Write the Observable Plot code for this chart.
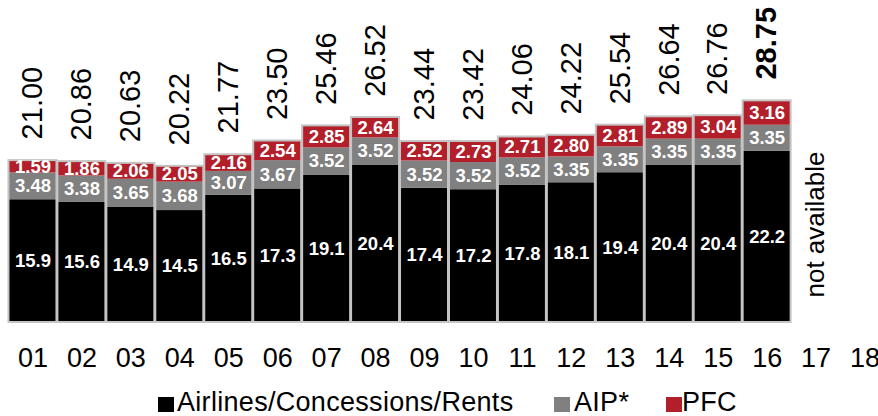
<!DOCTYPE html>
<html>
<head>
<meta charset="utf-8">
<script src="https://cdn.jsdelivr.net/npm/d3@7"></script>
<script src="https://cdn.jsdelivr.net/npm/@observablehq/plot@0.6"></script>
<style>
  html, body { margin: 0; padding: 0; background: #fff; }
  body { width: 878px; height: 416px; overflow: hidden; font-family: "Liberation Sans", Arial, sans-serif; }
  #legend { position: relative; height: 36px; font-size: 27px; letter-spacing: 0.3px; color: #000; }
  #legend .sw { position: absolute; top: 17px; width: 16px; height: 15px; }
  #legend .lb { position: absolute; top: 9px; line-height: 27px; white-space: nowrap; }
</style>
</head>
<body>
<div id="chart"></div>
<div id="legend"></div>
<script>
const years = ["01","02","03","04","05","06","07","08","09","10","11","12","13","14","15","16","17","18"];
const barYears = ["01","02","03","04","05","06","07","08","09","10","11","12","13","14","15","16"];
const airlines = [15.9,15.6,14.9,14.5,16.5,17.3,19.1,20.4,17.4,17.2,17.8,18.1,19.4,20.4,20.4,22.2];
const aip = [3.48,3.38,3.65,3.68,3.07,3.67,3.52,3.52,3.52,3.52,3.52,3.35,3.35,3.35,3.35,3.35];
const pfc = [1.59,1.86,2.06,2.05,2.16,2.54,2.85,2.64,2.52,2.73,2.71,2.80,2.81,2.89,3.04,3.16];
const totals = [21.00,20.86,20.63,20.22,21.77,23.50,25.46,26.52,23.44,23.42,24.06,24.22,25.54,26.64,26.76,28.75];
const seriesNames = ["Airlines/Concessions/Rents","AIP*","PFC"];
const seriesColors = ["#000000","#808080","#b21f2a"];
const noteYear = ["17"];
const noteText = ["not available"];

const rows = [];
barYears.forEach((yr, i) => {
  rows.push({year: yr, series: seriesNames[0], value: airlines[i], label: airlines[i].toFixed(1)});
  rows.push({year: yr, series: seriesNames[1], value: aip[i], label: aip[i].toFixed(2)});
  rows.push({year: yr, series: seriesNames[2], value: pfc[i], label: pfc[i].toFixed(2)});
});
const totalRows = barYears.map((yr, i) => ({year: yr, total: totals[i], bold: i === barYears.length - 1}));
const notes = noteYear.map((yr, i) => ({year: yr, text: noteText[i]}));

const chart = Plot.plot({
  width: 878,
  height: 380,
  marginLeft: 7.5,
  marginRight: 0,
  marginTop: 0,
  marginBottom: 58,
  style: {fontFamily: "'Liberation Sans', Arial, sans-serif", color: "#000", background: "#fff", overflow: "visible"},
  x: {domain: years, range: [7.5, 889.5], padding: 0.02, round: false, axis: null},
  y: {domain: [0, 30], range: [322, 90.4], axis: null},
  color: {domain: seriesNames, range: seriesColors},
  marks: [
    Plot.barY(rows, Plot.stackY({x: "year", y: "value", z: "series", fill: "series"})),
    Plot.barY(rows, Plot.groupX({y: "sum"}, {x: "year", y: "value", fill: "none", stroke: "#c4c4c4", strokeWidth: 2})),
    Plot.text(rows, Plot.stackY({x: "year", y: "value", z: "series", text: "label", fill: "white", fontWeight: "bold", fontSize: 18.5})),
    Plot.text(totalRows.filter(d => !d.bold), {x: "year", y: "total", text: d => d.total.toFixed(2), rotate: -90, textAnchor: "start", dy: -21, fontSize: 29, fill: "#000"}),
    Plot.text(totalRows.filter(d => d.bold), {x: "year", y: "total", text: d => d.total.toFixed(2), rotate: -90, textAnchor: "start", dy: -21, fontSize: 29, fontWeight: "bold", fill: "#000"}),
    Plot.text(notes, {x: "year", y: () => 0, text: "text", rotate: -90, textAnchor: "start", dy: -25, fontSize: 26, fill: "#000"}),
    Plot.ruleY([0], {x1: 7.5, x2: 889.5, stroke: "#000", strokeWidth: 2}),
    Plot.axisX({tickSize: 0, tickPadding: 25, fontSize: 27, label: null, fill: "#000"})
  ]
});
document.getElementById("chart").appendChild(chart);

const legend = document.getElementById("legend");
const swLeft = [158, 554, 666];
const lbLeft = [177, 574, 682];
seriesNames.forEach((name, i) => {
  const sw = document.createElement("div");
  sw.className = "sw";
  sw.style.left = swLeft[i] + "px";
  sw.style.background = seriesColors[i];
  legend.appendChild(sw);
  const lb = document.createElement("div");
  lb.className = "lb";
  lb.style.left = lbLeft[i] + "px";
  lb.textContent = name;
  legend.appendChild(lb);
});
</script>
</body>
</html>
